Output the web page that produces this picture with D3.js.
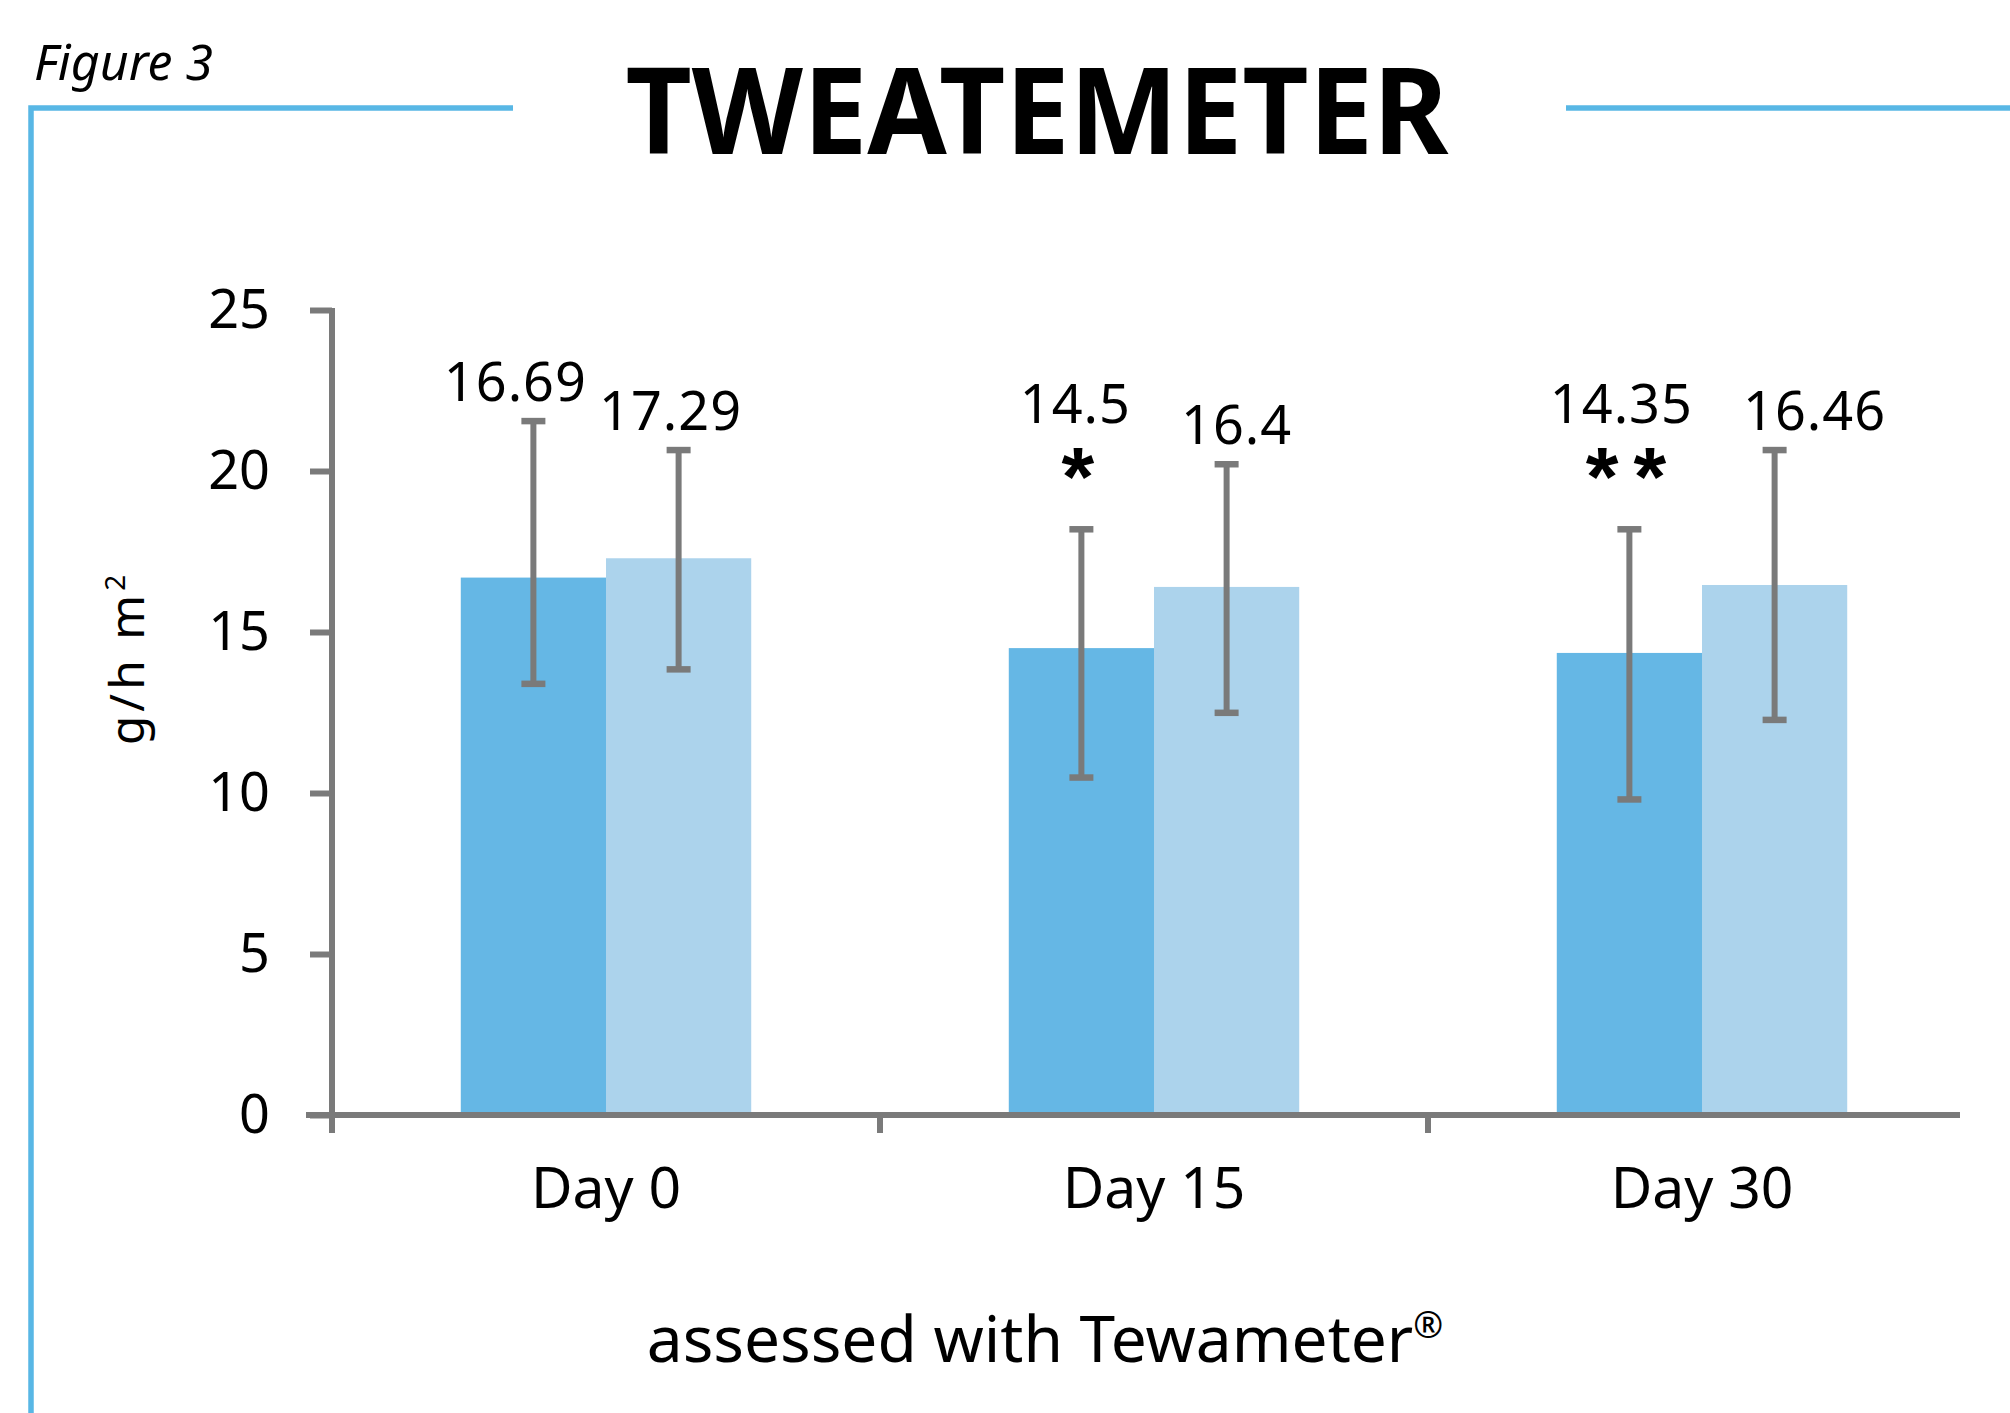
<!DOCTYPE html>
<html>
<head>
<meta charset="utf-8">
<script src="https://cdn.jsdelivr.net/npm/d3@7"></script>
<style>
  html, body { margin: 0; padding: 0; background: #ffffff; }
  svg { display: block; }
  text { font-family: "Noto Sans", "DejaVu Sans", sans-serif; fill: #000; }
</style>
</head>
<body>
<script>
// ---- data ----
const categories = ["Day 0", "Day 15", "Day 30"];
const seriesKeys = ["groupA", "groupB"];
const meanA = [16.69, 14.5, 14.35];
const meanB = [17.29, 16.4, 16.46];
const upperA = [21.55, 18.19, 18.19];
const lowerA = [13.39, 10.48, 9.80];
const upperB = [20.65, 20.21, 20.65];
const lowerB = [13.84, 12.49, 12.27];
const starsA = ["", "*", "**"];
const starsB = ["", "", ""];
const yTicks = [0, 5, 10, 15, 20, 25];

// ---- styles / layout ----
const W = 2010, H = 1413;
const frameBlue = "#58b7e5";
const barColors = { groupA: "#65b7e5", groupB: "#acd3ec" };
const grey = "#7a7a7a";
// horizontal nudges for value labels so neighbouring numbers don't collide
const labelDx = {
  "Day 0|groupA": -18, "Day 0|groupB": -8,
  "Day 15|groupA": -6, "Day 15|groupB": 10,
  "Day 30|groupA": -8, "Day 30|groupB": 40
};

const rows = [];
categories.forEach((c, i) => {
  rows.push({ cat: c, key: "groupA", mean: meanA[i], hi: upperA[i], lo: lowerA[i], star: starsA[i] });
  rows.push({ cat: c, key: "groupB", mean: meanB[i], hi: upperB[i], lo: lowerB[i], star: starsB[i] });
});

const svg = d3.select("body").append("svg")
  .attr("width", W).attr("height", H)
  .attr("viewBox", `0 0 ${W} ${H}`);

svg.append("rect").attr("width", W).attr("height", H).attr("fill", "#fff");

// ---- frame and headings ----
svg.append("path")
  .attr("d", "M31,1413 V108 H513")
  .attr("fill", "none").attr("stroke", frameBlue).attr("stroke-width", 5.5);
svg.append("line")
  .attr("x1", 1566).attr("x2", W).attr("y1", 108).attr("y2", 108)
  .attr("stroke", frameBlue).attr("stroke-width", 5.5);

svg.append("text")
  .attr("x", 34).attr("y", 80)
  .attr("font-size", 50).attr("font-style", "italic")
  .text("Figure 3");

svg.append("text")
  .attr("x", 1037).attr("y", 154)
  .attr("text-anchor", "middle")
  .attr("font-size", 121).attr("font-weight", 700)
  .attr("textLength", 823).attr("lengthAdjust", "spacingAndGlyphs")
  .text("TWEATEMETER");

// ---- scales ----
const y = d3.scaleLinear().domain([0, 25]).range([1115, 310]);
const x0 = d3.scaleBand().domain(categories).range([332, 1976]);
const groupW = x0.bandwidth() * 0.53;
const x1 = d3.scaleBand().domain(seriesKeys)
  .range([(x0.bandwidth() - groupW) / 2, (x0.bandwidth() + groupW) / 2]);
const cx = d => x0(d.cat) + x1(d.key) + x1.bandwidth() / 2;

// ---- bars ----
svg.append("g").selectAll("rect").data(rows).join("rect")
  .attr("x", d => x0(d.cat) + x1(d.key))
  .attr("width", x1.bandwidth())
  .attr("y", d => y(d.mean))
  .attr("height", d => y(0) - y(d.mean))
  .attr("fill", d => barColors[d.key]);

// ---- axes ----
const axisY = svg.append("g")
  .attr("transform", `translate(${x0.range()[0]},0)`)
  .call(d3.axisLeft(y).tickValues(yTicks).tickSize(22).tickSizeOuter(0).tickPadding(40));
axisY.select(".domain").remove();
axisY.selectAll(".tick line").attr("stroke", grey).attr("stroke-width", 6);
axisY.selectAll(".tick text")
  .attr("font-size", 54).attr("font-family", "Noto Sans").attr("fill", "#000");

const axisX = svg.append("g")
  .attr("transform", `translate(0,${y(0)})`)
  .call(d3.axisBottom(x0).tickSize(0).tickPadding(53));
axisX.select(".domain").remove();
axisX.selectAll(".tick text")
  .attr("font-size", 57).attr("font-family", "Noto Sans").attr("fill", "#000");

// axis lines
svg.append("line")
  .attr("x1", x0.range()[0]).attr("x2", x0.range()[0])
  .attr("y1", y(25) - 2).attr("y2", y(0) + 18)
  .attr("stroke", grey).attr("stroke-width", 6);
svg.append("line")
  .attr("x1", x0.range()[0] - 26).attr("x2", x0.range()[1] - 16)
  .attr("y1", y(0)).attr("y2", y(0))
  .attr("stroke", grey).attr("stroke-width", 6);
// category boundary ticks
svg.append("g").selectAll("line").data(categories.slice(1)).join("line")
  .attr("x1", d => x0(d)).attr("x2", d => x0(d))
  .attr("y1", y(0)).attr("y2", y(0) + 18)
  .attr("stroke", grey).attr("stroke-width", 6);

// ---- error bars ----
const err = svg.append("g").attr("stroke", grey);
err.selectAll(".stem").data(rows).join("line").attr("class", "stem")
  .attr("x1", cx).attr("x2", cx)
  .attr("y1", d => y(d.hi)).attr("y2", d => y(d.lo))
  .attr("stroke-width", 6);
err.selectAll(".capHi").data(rows).join("line").attr("class", "capHi")
  .attr("x1", d => cx(d) - 12).attr("x2", d => cx(d) + 12)
  .attr("y1", d => y(d.hi)).attr("y2", d => y(d.hi))
  .attr("stroke-width", 6.5);
err.selectAll(".capLo").data(rows).join("line").attr("class", "capLo")
  .attr("x1", d => cx(d) - 12).attr("x2", d => cx(d) + 12)
  .attr("y1", d => y(d.lo)).attr("y2", d => y(d.lo))
  .attr("stroke-width", 6.5);

// ---- value labels and significance marks ----
svg.append("g").selectAll("text").data(rows).join("text")
  .attr("x", d => cx(d) + labelDx[d.cat + "|" + d.key])
  .attr("y", d => y(d.hi) - (d.star ? 106 : 20))
  .attr("text-anchor", "middle")
  .attr("font-size", 54)
  .attr("letter-spacing", 1)
  .text(d => d.mean);

svg.append("g").selectAll("text").data(rows.filter(d => d.star)).join("text")
  .attr("x", d => cx(d) + 4)
  .attr("y", d => y(d.hi) - 23)
  .attr("text-anchor", "middle")
  .attr("font-weight", 700)
  .attr("font-size", 84)
  .attr("letter-spacing", 15)
  .style("font-family", "Liberation Sans")
  .text(d => d.star);

// ---- axis titles ----
const yLab = svg.append("text")
  .attr("transform", "translate(144,658) rotate(-90)")
  .attr("text-anchor", "middle")
  .attr("font-size", 48)
  .attr("letter-spacing", 4);
yLab.append("tspan").text("g/h m");
yLab.append("tspan").attr("baseline-shift", "super").attr("font-size", 28).text("2");

const xLab = svg.append("text")
  .attr("x", 1045).attr("y", 1362)
  .attr("text-anchor", "middle")
  .attr("font-size", 64);
xLab.append("tspan").text("assessed with Tewameter");
xLab.append("tspan").attr("baseline-shift", "super").attr("font-size", 36).text("®");
</script>
</body>
</html>
